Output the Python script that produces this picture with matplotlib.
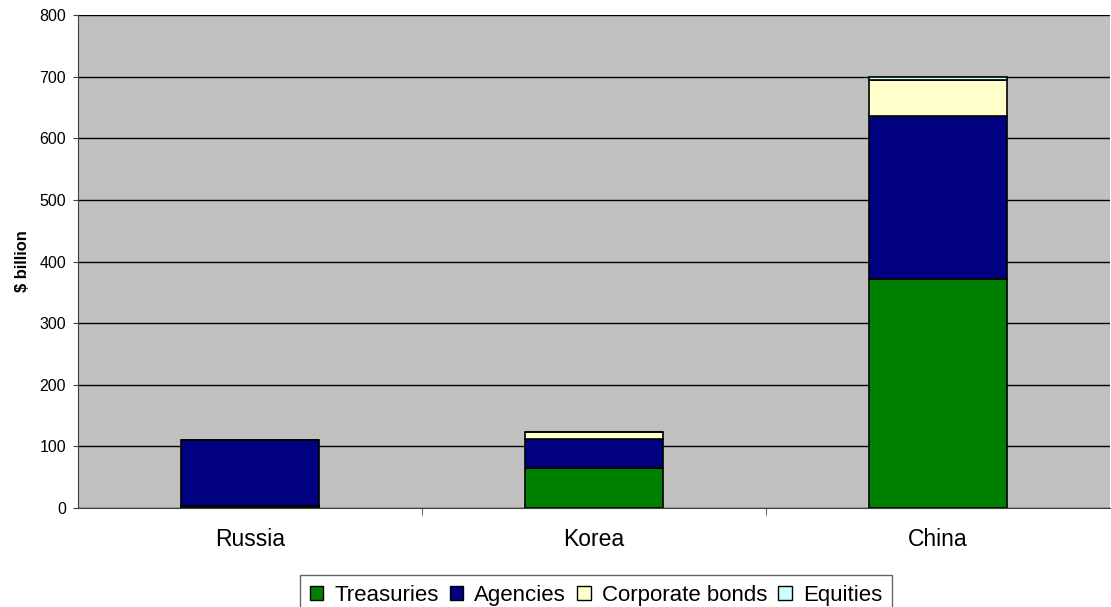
import numpy as np
import matplotlib
matplotlib.use("Agg")
import matplotlib.pyplot as plt

plt.rcParams['font.family'] = ['Liberation Sans', 'DejaVu Sans']

countries = ['Russia', 'Korea', 'China']
treasuries = [3, 65, 371]
agencies = [107, 47, 265]
corporate = [0, 11, 59]
equities = [0, 1, 4]

series = [('Treasuries', treasuries, '#008000'),
          ('Agencies', agencies, '#000080'),
          ('Corporate bonds', corporate, '#FFFFCC'),
          ('Equities', equities, '#CCFFFF')]

fig = plt.figure(figsize=(11.11, 6.07), dpi=100)
ax = fig.add_axes([0.0702, 0.163, 0.929, 0.812])
ax.set_facecolor('#C0C0C0')

x = np.arange(len(countries))
bottom = np.zeros(len(countries))
for name, vals, col in series:
    ax.bar(x, vals, width=0.4, bottom=bottom, color=col, edgecolor='black',
           linewidth=1.2, label=name, zorder=3)
    bottom += np.array(vals)

ax.set_xlim(-0.5, 2.5)
ax.set_ylim(0, 800)
ax.set_yticks(range(0, 801, 100))
ax.yaxis.grid(True, color='black', linewidth=1, zorder=0)
ax.set_axisbelow(True)
ax.set_xticks(x)
ax.set_xticklabels(countries, fontsize=16.5)
ax.tick_params(axis='x', length=0, pad=14)
ax.set_xticks([0.5, 1.5], minor=True)
ax.tick_params(axis='x', which='minor', length=5, direction='out', color='#404040')
ax.tick_params(axis='y', labelsize=11.5, length=3.5, pad=5, direction='out', color='#404040')
for s in ['top', 'right']:
    ax.spines[s].set_visible(False)
ax.spines['left'].set_color('#404040')
ax.spines['bottom'].set_color('#404040')
ax.set_ylabel('$ billion', fontsize=11.8, fontweight='bold', labelpad=7)

# legend sits at the bottom edge, its lower border runs off the image
handles, labels = ax.get_legend_handles_labels()
leg = fig.legend(handles, labels, loc='upper center',
                 bbox_to_anchor=(596 / 1111, (607 - 575) / 607),
                 bbox_transform=fig.transFigure,
                 ncol=4, frameon=True, fancybox=False, fontsize=16,
                 handlelength=0.6, handleheight=0.6, handletextpad=0.5,
                 columnspacing=0.5, borderpad=0.45, borderaxespad=0)
leg.get_frame().set_edgecolor('#404040')
leg.get_frame().set_linewidth(1)
for h in leg.legend_handles:
    h.set_linewidth(1)

fig.savefig('out.png', dpi=100, facecolor='white')
